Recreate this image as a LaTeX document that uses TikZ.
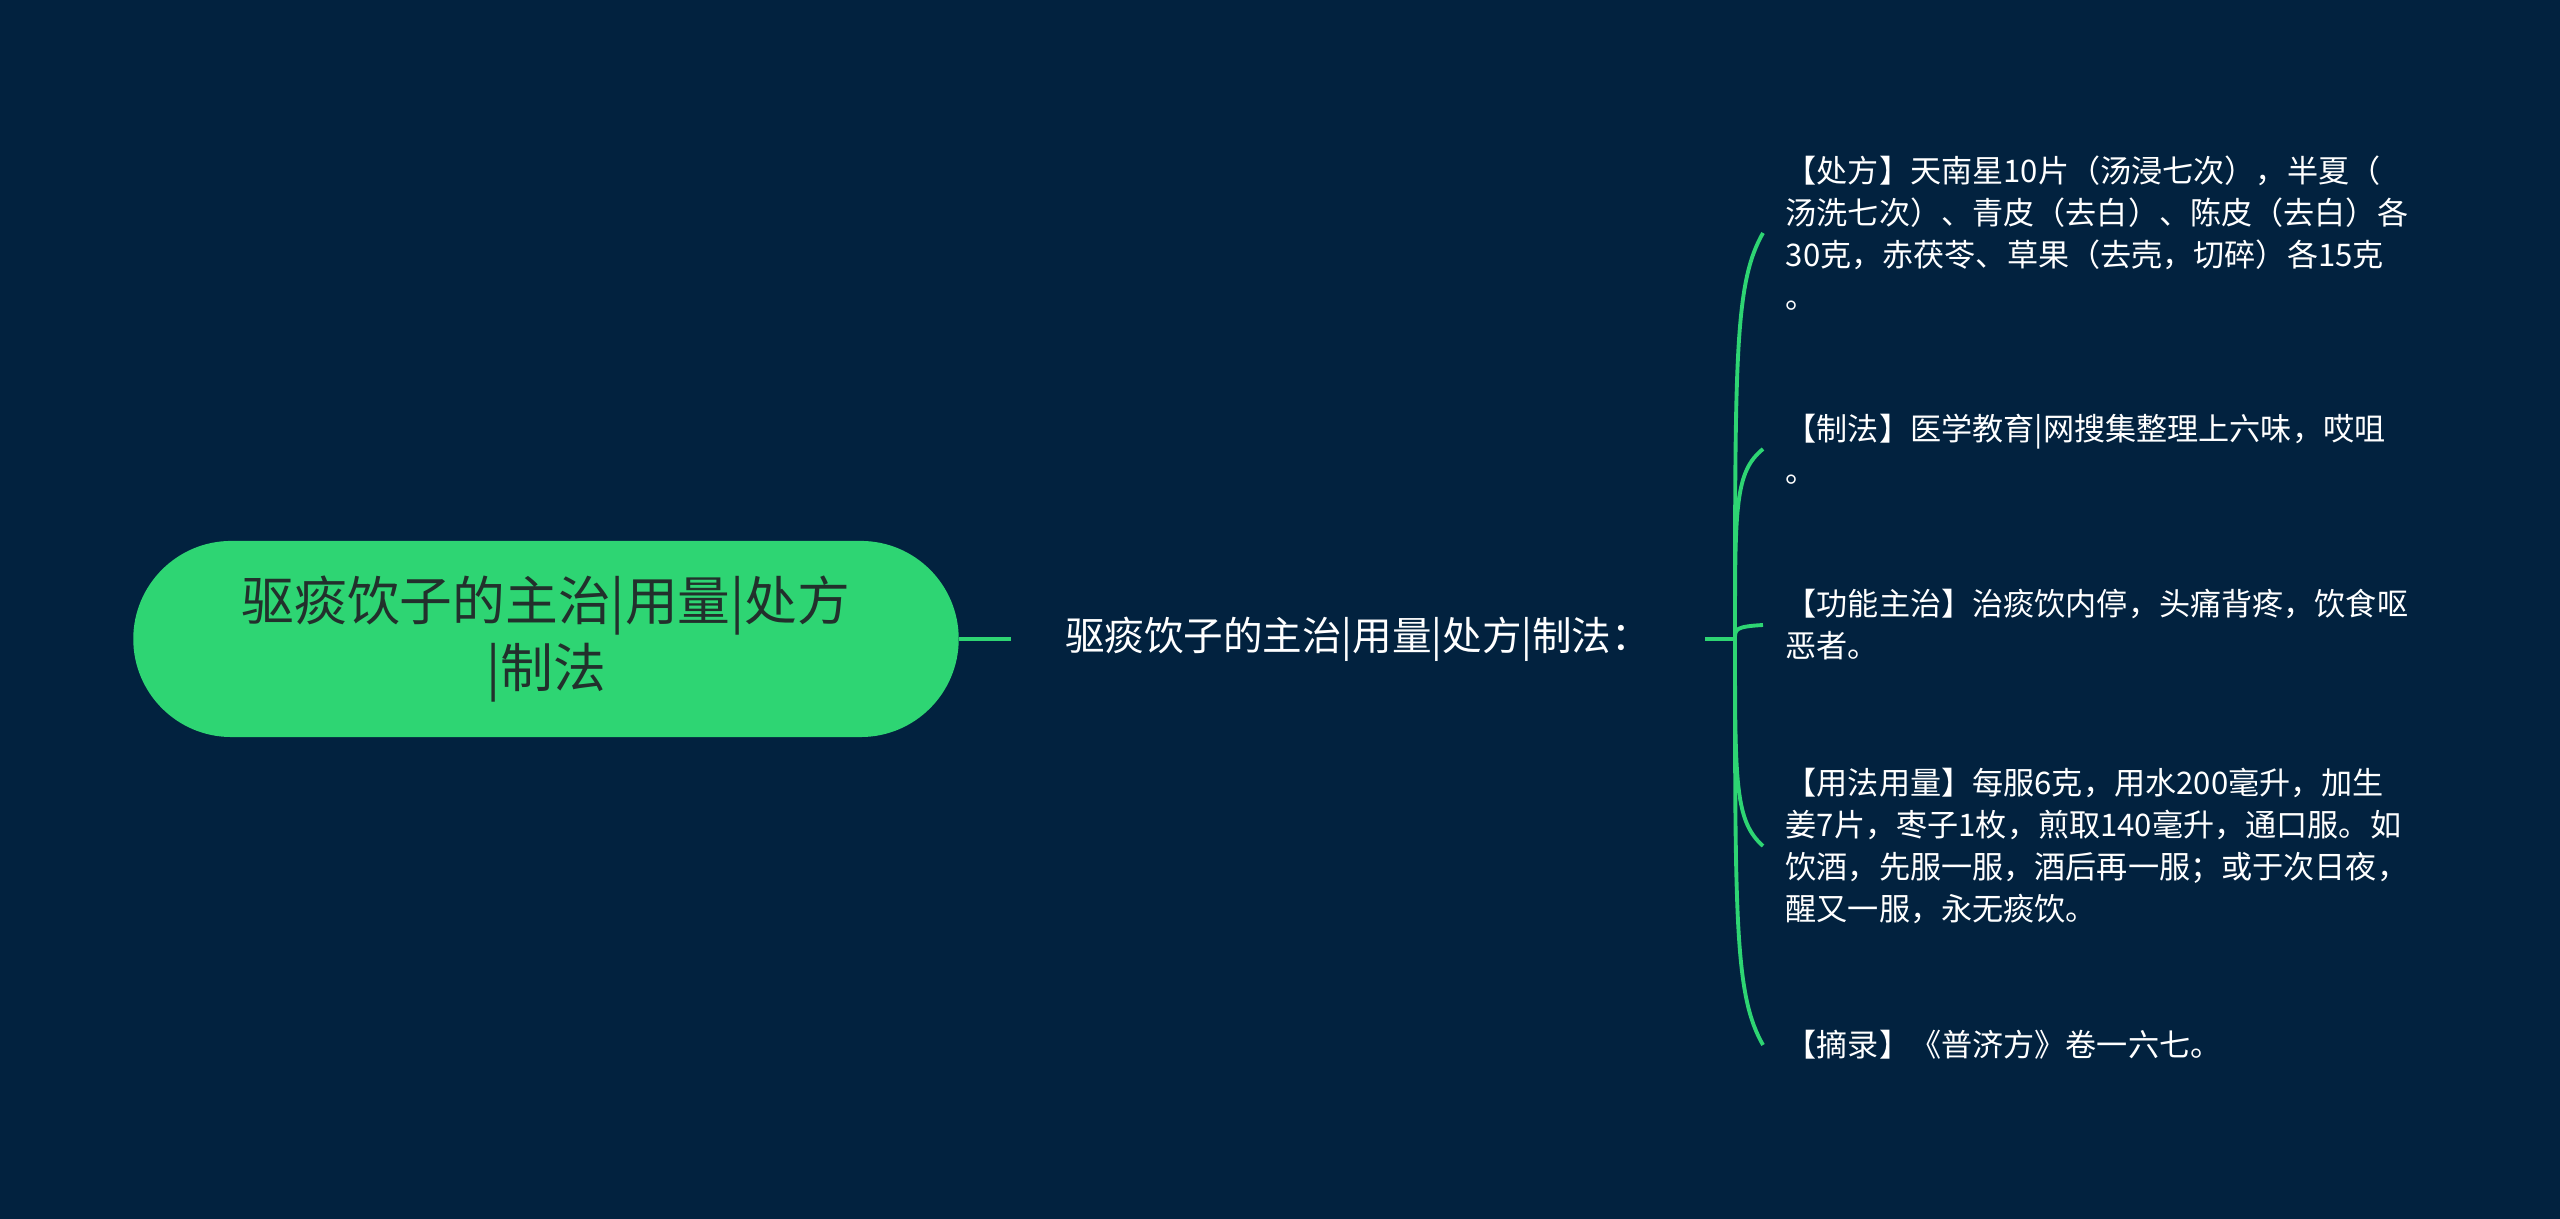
\documentclass[tikz,border=0pt]{standalone}
\usepackage{fontspec}
\setmainfont{Noto Sans CJK SC}
\usetikzlibrary{calc}
\definecolor{navyBg}{HTML}{02223F}
\definecolor{mintFill}{HTML}{2ED573}
\definecolor{mintLine}{HTML}{2ED573}
\definecolor{titleInk}{HTML}{22302C}

\begin{document}
\begin{tikzpicture}[x=0.01cm, y=0.01cm,
    titlebox/.style={fill=mintFill, rounded corners=0.98cm, minimum width=8.25cm,
        minimum height=1.96cm, align=center, text=titleInk,
        font=\fontsize{15pt}{19pt}\selectfont},
    topictext/.style={text=white, minimum width=6.92cm, inner xsep=0pt,
        font=\fontsize{11.25pt}{14pt}\selectfont},
    leaf/.style={anchor=west, text=white, align=left, inner xsep=0.22cm,
        font=\fontsize{8.85pt}{11.95pt}\selectfont},
    branch/.style={mintLine, line width=1.1pt}]

    % background
    \fill[navyBg] (0,0) rectangle (2560,1219);

    % main nodes
    \node[titlebox] (title) at (546,580) {驱痰饮子的主治|用量|处方\\|制法};
    \node[topictext] (topic) at (1358,580) {驱痰饮子的主治|用量|处方|制法：};
    \coordinate (hub) at (1735,580);

    % leaves
    \node[leaf] (recipe) at (1763,986) {【处方】天南星10片（汤浸七次），半夏（\\汤洗七次）、青皮（去白）、陈皮（去白）各\\30克，赤茯苓、草果（去壳，切碎）各15克\\。};
    \node[leaf] (prep) at (1763,770) {【制法】医学教育|网搜集整理上六味，哎咀\\。};
    \node[leaf] (effect) at (1763,594) {【功能主治】治痰饮内停，头痛背疼，饮食呕\\恶者。};
    \node[leaf] (dosage) at (1763,373) {【用法用量】每服6克，用水200毫升，加生\\姜7片，枣子1枚，煎取140毫升，通口服。如\\饮酒，先服一服，酒后再一服；或于次日夜，\\醒又一服，永无痰饮。};
    \node[leaf] (source) at (1763,174) {【摘录】《普济方》卷一六七。};

    % connectors
    \draw[branch] (title.east) -- (topic.west);
    \draw[branch] (topic.east) -- (hub);
    \foreach \n in {recipe,prep,effect,dosage,source}
        \draw[branch] (hub) .. controls ($(hub)!0.7!(hub |- \n.west)$)
            and ($(hub |- \n.west)!0.12!(hub)$) .. (\n.west);

\end{tikzpicture}
\end{document}
